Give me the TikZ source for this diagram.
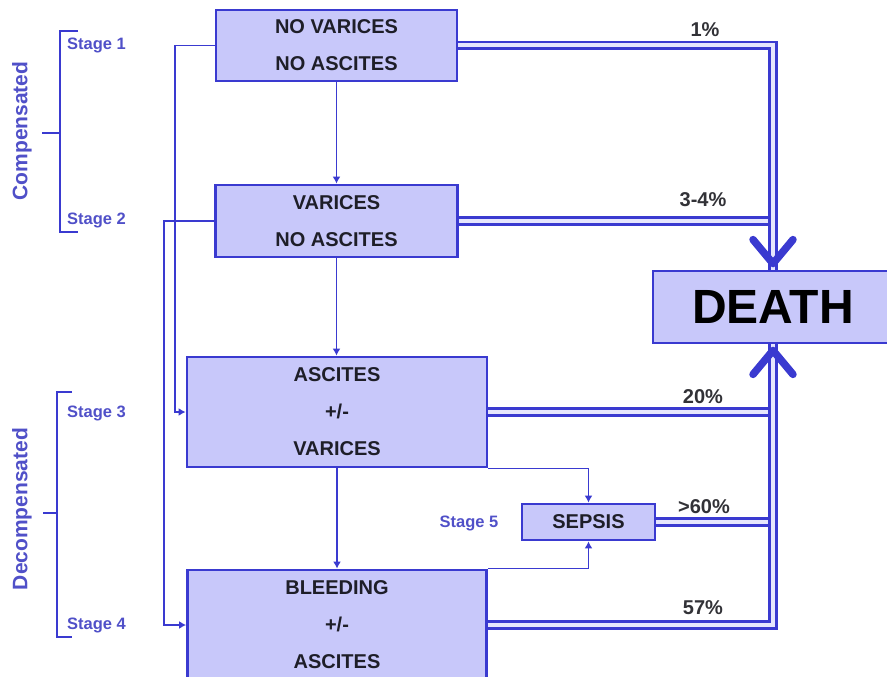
\documentclass[tikz,border=0pt]{standalone}
\usepackage{fontspec}
\setmainfont{Liberation Sans}
\usetikzlibrary{arrows.meta,calc}
\definecolor{boxfill}{RGB}{200,200,250}
\definecolor{lineblue}{RGB}{58,58,208}
\definecolor{stageblue}{RGB}{80,80,200}
\definecolor{txt}{RGB}{30,30,40}
\definecolor{pct}{RGB}{50,50,55}
\begin{document}
\begin{tikzpicture}[x=1pt,y=-1pt,
 box/.style={draw=lineblue, line width=2.8pt, fill=boxfill, inner sep=0pt, align=center, text=txt, font=\fontsize{20}{37}\selectfont\bfseries},
 thin/.style={draw=lineblue, line width=1.6pt, -{Latex[length=7pt,width=8pt]}},
 dbl/.style={draw=lineblue, line width=2.6pt, double=white!55!boxfill, double distance=4pt},
 chev/.style={draw=lineblue, line width=7.5pt, line cap=round, line join=round},
 stagelbl/.style={text=stageblue, font=\fontsize{16.5}{18}\selectfont\bfseries, anchor=west, inner sep=0pt},
 pctlbl/.style={text=pct, font=\fontsize{20}{22}\selectfont\bfseries, inner sep=0pt},
 grp/.style={text=stageblue, font=\fontsize{21}{24}\selectfont\bfseries, rotate=90, inner sep=0pt},
 brk/.style={draw=lineblue, line width=1.8pt}
]
\useasboundingbox (0,0) rectangle (887,677);
\clip (0,0) rectangle (887,677);

% boxes
\node[box, minimum width=241pt, minimum height=71pt] (b1) at (336.5,45.5) {NO VARICES\\NO ASCITES};
\node[box, minimum width=242pt, minimum height=72pt] (b2) at (336.5,221) {VARICES\\NO ASCITES};
\node[box, minimum width=300pt, minimum height=110pt] (b3) at (337,412) {ASCITES\\+/-\\VARICES};
\node[box, minimum width=299pt, minimum height=110pt] (b4) at (337,625) {BLEEDING\\+/-\\ASCITES};
\node[box, minimum width=133pt, minimum height=36pt] (sepsis) at (588.5,522) {SEPSIS};
\node[box, minimum width=240pt, minimum height=72pt, font=\fontsize{48}{50}\selectfont\bfseries, text=black] (death) at (773,307) {DEATH};

% thin connectors
\draw[thin] (b1.south) -- (b2.north);
\draw[thin] (b2.south) -- (b2.south |- b3.north);
\draw[thin] (b3.south) -- (b4.north);
\coordinate (l1) at (175,45.5);
\coordinate (l2) at (164,221);
\draw[thin] (b1.west) -- (l1) |- (b3.west);
\draw[thin] (b2.west) -- (l2) |- (b4.west);
\draw[thin] (b3.south east) -| (sepsis.north);
\draw[thin] (b4.north east) -| (sepsis.south);

% double connectors to DEATH
\coordinate (topc) at (773,45.5);
\coordinate (botc) at (773,625);
\draw[dbl] (b2.east) -- (773,221);
\draw[dbl] (b3.east) -- (773,412);
\draw[dbl] (sepsis.east) -- (773,522);
\draw[dbl] (b1.east) -- (topc) -- (death.north);
\draw[dbl] (b4.east) -- (botc) -- (death.south);
\draw[chev] ($(death.north)+(-20,-30)$) -- ($(death.north)+(0,-6)$) -- ($(death.north)+(20,-30)$);
\draw[chev] ($(death.south)+(-20,30)$) -- ($(death.south)+(0,6)$) -- ($(death.south)+(20,30)$);

% percentages
\node[pctlbl] (p1) at (705,30) {1\%};
\node[pctlbl] (p2) at (703,200) {3-4\%};
\node[pctlbl] (p3) at (703,397) {20\%};
\node[pctlbl] (p4) at (704,507) {>60\%};
\node[pctlbl] (p5) at (703,608) {57\%};

% stage labels
\node[stagelbl] (s1) at (67,45) {Stage 1};
\node[stagelbl] (s2) at (67,220) {Stage 2};
\node[stagelbl] (s3) at (67,413) {Stage 3};
\node[stagelbl] (s4) at (67,625) {Stage 4};
\node[stagelbl, anchor=center] (s5) at (469,523) {Stage 5};

% brackets
\draw[brk] (78,31) -- (60,31) -- (60,232) -- (78,232);
\draw[brk] (42,133) -- (60,133);
\draw[brk] (72,392) -- (57,392) -- (57,637) -- (72,637);
\draw[brk] (43,513) -- (57,513);
\node[grp] (comp) at (22,131) {Compensated};
\node[grp] (decomp) at (22,509) {Decompensated};
\end{tikzpicture}
\end{document}
